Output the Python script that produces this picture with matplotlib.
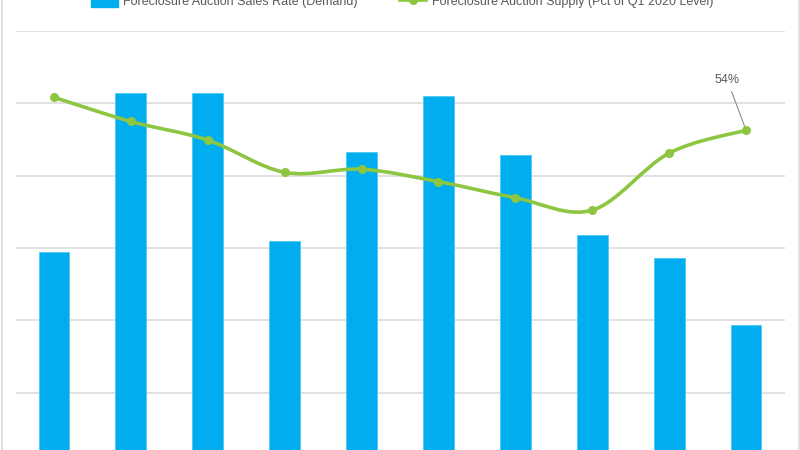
import numpy as np
import matplotlib
matplotlib.use('Agg')
import matplotlib.pyplot as plt
from matplotlib.path import Path
from matplotlib.patches import PathPatch
from matplotlib.lines import Line2D

# quarters (the axis labels are cropped out of the reference)
quarters = ['Q3 2020', 'Q4 2020', 'Q1 2021', 'Q2 2021', 'Q3 2021',
            'Q4 2021', 'Q1 2022', 'Q2 2022', 'Q3 2022', 'Q4 2022']
demand = [14.7, 25.7, 25.7, 15.5, 21.6, 25.5, 21.4, 15.9, 14.3, 9.7]
supply = [59.3, 55.4, 52.4, 47.2, 47.7, 45.7, 43.1, 41.1, 50.3, 54.0]

BLUE = '#00AEEF'
GREEN = '#8DC641'
GREY_TXT = '#595959'
GRID = '#D9D9D9'

plt.rcParams['font.family'] = ['Liberation Sans', 'DejaVu Sans']

fig = plt.figure(figsize=(8, 4.5), dpi=100)
W, H = 800, 450
# plot area runs below the bottom of the picture (reference is cropped)
ax = fig.add_axes([15.5 / W, (H - 464.9) / H, 769 / W, 433.9 / H])

x = np.arange(len(quarters))
ax.bar(x, demand, width=0.4, color=BLUE, edgecolor='#4CC8F5', linewidth=0.6, zorder=2)
ax.set_xlim(-0.5, len(quarters) - 0.5)
ax.set_ylim(0, 30)
ax.set_yticks(np.arange(0, 31, 5))
ax.set_xticks(x, quarters)
ax.yaxis.grid(True, color=GRID, linewidth=1.1, zorder=0)
ax.set_axisbelow(True)
ax.tick_params(length=0, labelleft=False, labelbottom=False)
for s in ax.spines.values():
    s.set_visible(False)

ax2 = ax.twinx()
ax2.set_ylim(0, 70)
ax2.tick_params(length=0, labelright=False)
for s in ax2.spines.values():
    s.set_visible(False)

# smoothed line (catmull-rom style bezier through the points)
pts = np.column_stack([x, supply]).astype(float)
verts = [tuple(pts[0])]
codes = [Path.MOVETO]
n = len(pts)
for i in range(n - 1):
    p0 = pts[max(i - 1, 0)]
    p1 = pts[i]
    p2 = pts[i + 1]
    p3 = pts[min(i + 2, n - 1)]
    c1 = p1 + (p2 - p0) / 6
    c2 = p2 - (p3 - p1) / 6
    verts += [tuple(c1), tuple(c2), tuple(p2)]
    codes += [Path.CURVE4] * 3
ax2.add_patch(PathPatch(Path(verts, codes), fill=False, edgecolor=GREEN,
                        linewidth=2.6, capstyle='round', zorder=3))
ax2.plot(x, supply, 'o', color=GREEN, markersize=5.5, zorder=4)

ax2.annotate(f'{supply[-1]:.0f}%', xy=(x[-1], supply[-1]), xytext=(-13.5, 36),
             textcoords='offset points', ha='center', va='center',
             fontsize=9, color=GREY_TXT,
             arrowprops=dict(arrowstyle='-', color='#8C8C8C', lw=0.8,
                             shrinkA=2, shrinkB=2.5))

handles = [plt.Rectangle((0, 0), 1, 1, color=BLUE),
           Line2D([0], [0], color=GREEN, lw=2.6, marker='o', markersize=5.5)]
labels = ['Foreclosure Auction Sales Rate (Demand)',
          'Foreclosure Auction Supply (Pct of Q1 2020 Level)']
leg = fig.legend(handles, labels, loc='center', bbox_to_anchor=(0.503, 1 - 1.5 / H),
                 ncol=2, frameon=False, fontsize=9, handlelength=2.1,
                 handleheight=1.1, handletextpad=0.45, columnspacing=3.4,
                 borderaxespad=0, borderpad=0)
for t in leg.get_texts():
    t.set_color(GREY_TXT)

# chart border
fig.add_artist(Line2D([2 / W, 2 / W], [0, 1], color=GRID, lw=1.2))
fig.add_artist(Line2D([798.5 / W, 798.5 / W], [0, 1], color=GRID, lw=1.2))

fig.savefig('out.png', dpi=100)
